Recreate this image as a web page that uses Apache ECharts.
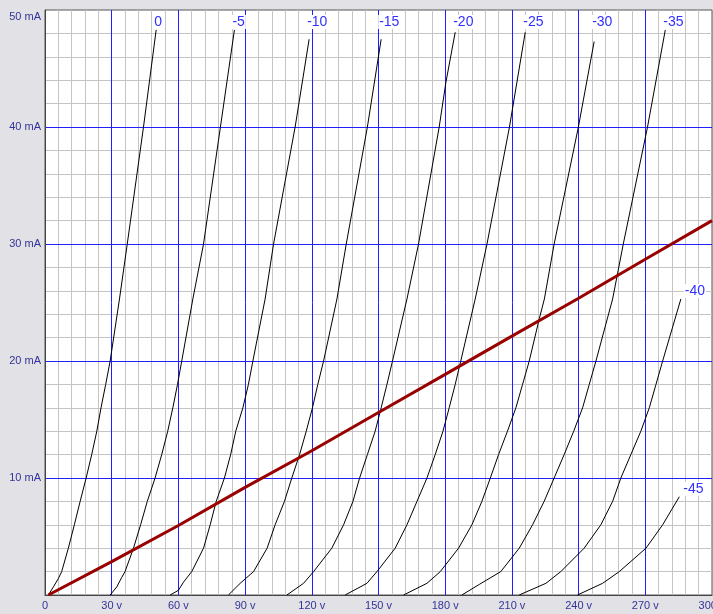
<!DOCTYPE html>
<html>
<head>
<meta charset="utf-8">
<script src="https://cdn.jsdelivr.net/npm/echarts@6/dist/echarts.min.js"></script>
<style>
  html, body { margin: 0; padding: 0; background: #e2e2e6; }
  #chart { width: 713px; height: 614px; }
</style>
</head>
<body>
<div id="chart"></div>
<script>
// plate curves, [volts, mA]
var curveG0   = [[1.5,0],[3.8,0.7],[6,1.4],[7.5,2],[10.5,4],[13.2,6],[15.8,8],[18.5,10],[21,12],[23.3,14],[25.2,16],[27.3,18],[29.3,20],[33.5,25.3],[37,30],[44.3,40],[50,48.3]];
var curveG5   = [[29.3,0],[32.3,0.7],[34.5,1.5],[36,2],[39.8,4],[43,6],[46,8],[49.5,10],[52.5,12],[55.2,14],[57.5,16],[59.6,18],[61.5,20],[66.5,25.3],[71.3,30],[78.9,40],[85.2,48.3]];
var curveG10  = [[56.3,0],[60,0.4],[62.3,1.1],[66,2],[71.3,4],[74.3,6],[77,8],[80.7,10],[83.5,12],[85.8,14],[89,16],[91.5,18],[93.5,20],[99,25.3],[102.8,30],[112.5,40],[118.8,47.5]];
var curveG15  = [[82.5,0],[87.8,1],[93.8,2],[99.9,4],[103.5,6],[107.7,8],[111,10],[114.5,12],[117.5,14],[120.3,16],[122.7,18],[125.3,20],[131.3,25.3],[135.5,30],[145,40],[151.2,47.5]];
var curveG20  = [[108.8,0],[116.3,1],[120.8,2],[129,4],[134.3,6],[138.5,8],[141.5,10],[145,12],[148.5,14],[151.2,16],[153.8,18],[156.3,20],[162.8,25.3],[168,30],[177.3,40],[180.3,43.8],[184.5,48.1]];
var curveG25  = [[135,0],[144.8,1],[149.3,2],[157.5,4],[162.8,6],[167.3,8],[171.8,10],[175.5,12],[179,14],[181.8,16],[184.5,18],[187,20],[193.5,25.3],[198.8,30],[208.9,40],[216,48.1]];
var curveG30  = [[161.3,0],[171.8,1],[177.8,2],[186,4],[192,6],[196.5,8],[200.3,10],[204,12],[208,14],[211.8,16],[214.8,18],[217.8,20],[222.3,23.6],[224.6,25.3],[229,30],[239.9,40],[247,47.3]];
var curveG35  = [[187.5,0],[195.3,0.9],[205,2],[213.3,4],[219.3,6],[224.5,8],[229,10],[233.5,12],[237.8,14],[241.8,16],[244.8,18],[247.8,20],[255.3,25.3],[260.1,30],[271,40],[279,48.3]];
var curveG40  = [[213.3,0],[225.3,1],[232,2],[242.5,4],[250,6],[255.3,8],[259,10],[263.5,12],[268,14],[271.8,16],[274.8,18],[277.8,20],[286,25.3]];
var curveG45  = [[239.5,0],[250.8,1],[258.3,2],[270.3,4],[277.8,6],[285.3,8.4]];

var curveNames = ['0','-5','-10','-15','-20','-25','-30','-35','-40','-45'];
var curveData  = [curveG0,curveG5,curveG10,curveG15,curveG20,curveG25,curveG30,curveG35,curveG40,curveG45];

// load line
var loadLine = [[1.5,0],[30,2.85],[60,5.94],[90,9.2],[120,12.33],[150,15.6],[180,18.86],[210,22.13],[240,25.36],[270,28.7],[300,32]];

var gridTop = 10, gridBottom = 19;
var pxPerMA = (614 - gridTop - gridBottom) / 50;

var series = [];
for (var i = 0; i < curveNames.length; i++) {
    var last = curveData[i][curveData[i].length - 1];
    var atTop = last[1] > 40;
    // top row of labels sits on one line just under the frame
    var dy = atTop ? 12 - (50 - last[1]) * pxPerMA : -8;
    var dx = atTop ? -11 : -5;
    series.push({
        name: curveNames[i],
        type: 'line',
        data: curveData[i],
        showSymbol: false,
        lineStyle: { color: '#000', width: 1 },
        endLabel: {
            show: true,
            formatter: '{a}',
            offset: [dx, dy],
            color: '#3030ff',
            fontFamily: 'Liberation Sans',
            fontSize: 14,
            backgroundColor: '#fff',
            padding: [0, 1]
        },
        z: 3
    });
}
series.push({
    name: 'load',
    type: 'line',
    data: loadLine,
    showSymbol: false,
    lineStyle: { color: '#990000', width: 3 },
    z: 4
});

var labelStyle = {
    color: '#333399',
    fontFamily: 'Liberation Sans',
    fontSize: 11
};
var minorGray = { lineStyle: { color: '#c4c4c4', width: 1 } };
var majorBlue = { showMinLine: false, showMaxLine: false, lineStyle: { color: '#2020ff', width: 1 } };

var option = {
    backgroundColor: '#e2e2e6',
    animation: false,
    grid: {
        left: 45, right: 1, top: gridTop, bottom: gridBottom,
        outerBoundsMode: 'none',
        containLabel: false,
        show: true,
        backgroundColor: '#fff',
        borderColor: '#555',
        borderWidth: 1
    },
    xAxis: [{
        // gray minor lines only
        type: 'value', min: 0, max: 300, interval: 30,
        axisLine: { show: false }, axisTick: { show: false }, axisLabel: { show: false },
        splitLine: { show: false },
        minorTick: { show: false, splitNumber: 5 },
        minorSplitLine: Object.assign({ show: true }, minorGray),
        z: 0
    }, {
        type: 'value', min: 0, max: 300, interval: 30, position: 'bottom',
        axisLine: { show: true, onZero: false, lineStyle: { color: '#444', width: 1 } },
        axisTick: { show: false },
        axisLabel: Object.assign({
            margin: 5,
            formatter: function (v) { return v === 0 ? '0' : v + ' v'; }
        }, labelStyle),
        splitLine: majorBlue,
        z: 1
    }],
    yAxis: [{
        type: 'value', min: 0, max: 50, interval: 10,
        axisLine: { show: false }, axisTick: { show: false }, axisLabel: { show: false },
        splitLine: { show: false },
        minorTick: { show: false, splitNumber: 5 },
        minorSplitLine: Object.assign({ show: true }, minorGray),
        z: 0
    }, {
        type: 'value', min: 0, max: 50, interval: 10, position: 'left',
        axisLine: { show: true, onZero: false, lineStyle: { color: '#444', width: 1 } },
        axisTick: { show: false },
        axisLabel: Object.assign({
            margin: 4,
            formatter: function (v) {
                if (v === 0) return '';
                if (v === 50) return '{top|50 mA}';
                return v + ' mA';
            },
            rich: { top: { padding: [14, 0, 0, 0], color: '#333399', fontFamily: 'Liberation Sans', fontSize: 11 } }
        }, labelStyle),
        splitLine: majorBlue,
        z: 1
    }],
    series: series
};

var myChart = echarts.init(document.getElementById('chart'));
myChart.setOption(option);
</script>
</body>
</html>
